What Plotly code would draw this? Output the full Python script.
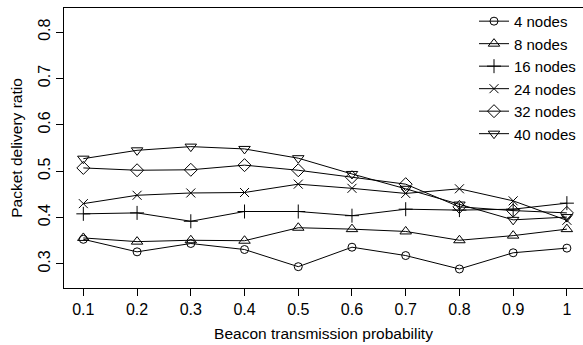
import plotly.graph_objects as go

probs = [0.1, 0.2, 0.3, 0.4, 0.5, 0.6, 0.7, 0.8, 0.9, 1.0]
tick_labels = ["0.1", "0.2", "0.3", "0.4", "0.5", "0.6", "0.7", "0.8", "0.9", "1"]
y_ticks = [0.3, 0.4, 0.5, 0.6, 0.7, 0.8]

nodes_4 = [0.353, 0.326, 0.344, 0.331, 0.294, 0.336, 0.318, 0.289, 0.324, 0.334]
nodes_8 = [0.356, 0.348, 0.351, 0.350, 0.378, 0.375, 0.370, 0.351, 0.361, 0.375]
nodes_16 = [0.408, 0.410, 0.392, 0.413, 0.413, 0.404, 0.418, 0.416, 0.418, 0.431]
nodes_24 = [0.430, 0.448, 0.453, 0.454, 0.472, 0.463, 0.452, 0.462, 0.436, 0.394]
nodes_32 = [0.507, 0.502, 0.503, 0.513, 0.502, 0.487, 0.472, 0.423, 0.415, 0.410]
nodes_40 = [0.527, 0.545, 0.553, 0.548, 0.528, 0.494, 0.462, 0.428, 0.395, 0.401]

series = [
    ("4 nodes", nodes_4, "circle-open", 8),
    ("8 nodes", nodes_8, "triangle-up-open", 10),
    ("16 nodes", nodes_16, "cross-thin-open", 10),
    ("24 nodes", nodes_24, "x-thin-open", 9),
    ("32 nodes", nodes_32, "diamond-open", 10),
    ("40 nodes", nodes_40, "triangle-down-open", 10),
]

FONT = "Liberation Sans, Arial, Helvetica, sans-serif"

fig = go.Figure()
for name, vals, sym, size in series:
    fig.add_trace(go.Scatter(
        x=probs, y=vals, name=name, mode="lines+markers",
        line=dict(color="black", width=1),
        marker=dict(symbol=sym, size=size, color="black",
                    line=dict(color="black", width=1)),
    ))

fig.update_layout(
    width=583, height=345,
    margin=dict(l=64, r=0, t=8, b=57),
    paper_bgcolor="white", plot_bgcolor="white",
    font=dict(family=FONT, size=16, color="black"),
    showlegend=True,
    legend=dict(x=0.79, y=1.011, xanchor="left", yanchor="top",
                bgcolor="rgba(0,0,0,0)", borderwidth=0,
                font=dict(size=15), itemwidth=30, tracegroupgap=0),
)
fig.update_xaxes(
    range=[0.064, 1.030], tickvals=probs, ticktext=tick_labels,
    showline=True, linecolor="black", linewidth=1, mirror=True,
    ticks="outside", ticklen=7, tickcolor="black", showgrid=False, zeroline=False,
    automargin=False,
    title=dict(text="Beacon transmission probability", standoff=10, font=dict(size=15.5)),
)
fig.update_yaxes(
    range=[0.248, 0.852], tickvals=y_ticks, tickangle=-90,
    showline=True, linecolor="black", linewidth=1, mirror=False,
    ticks="outside", ticklen=7, tickcolor="black", showgrid=False, zeroline=False,
    automargin=False,
    title=dict(text="Packet delivery ratio", standoff=9, font=dict(size=15.5)),
)

fig.write_html("out.html", config={"displayModeBar": False},
               post_script="document.body.style.margin='0';")
